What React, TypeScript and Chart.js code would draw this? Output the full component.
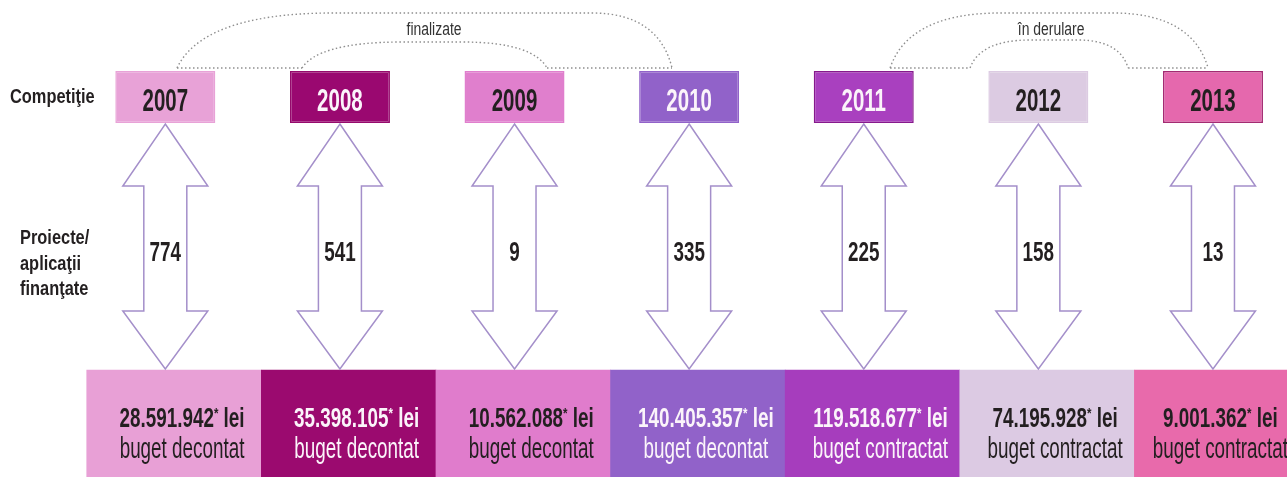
import React, { useEffect, useRef } from "react";
import { Chart, registerables } from "chart.js";

Chart.register(...registerables);

// ---------------- data ----------------
const years = ["2007", "2008", "2009", "2010", "2011", "2012", "2013"];
const projects = [774, 541, 9, 335, 225, 158, 13];
const budgets = [
  "28.591.942",
  "35.398.105",
  "10.562.088",
  "140.405.357",
  "119.518.677",
  "74.195.928",
  "9.001.362",
];
const budgetTypes = [
  "buget decontat",
  "buget decontat",
  "buget decontat",
  "buget decontat",
  "buget contractat",
  "buget contractat",
  "buget contractat",
];
const rowLabelCompetition = ["Competiţie"];
const rowLabelProjects = ["Proiecte/", "aplicaţii", "finanţate"];
const groupLabels = ["finalizate", "în derulare"];

// ---------------- styles ----------------
const yearFill = ["#e8a2d7", "#9a0870", "#e07fcd", "#9162c9", "#a940bf", "#dccbe2", "#e568ad"];
const yearBorder = ["#e8a2d7", "#950a6c", "#e07fcd", "#9162c9", "#86198c", "#dccbe2", "#a32b72"];
const bottomFill = ["#e8a0d6", "#9b0a6f", "#e07ccc", "#9162c9", "#a63dbd", "#dccae3", "#e86aab"];
const textColor = ["#231f20", "#fbf4fa", "#231f20", "#fbf4fa", "#fbf4fa", "#231f20", "#231f20"];
const DARK = "#231f20";
const ARROW_STROKE = "#a48fca";
const DOT_COLOR = "#8f8f8f";
const FONT = '"Liberation Sans", Arial, Helvetica, sans-serif';
const HS = 0.82; // condensed look

// ---------------- layout ----------------
const W = 1287;
const H = 477;
const LEFT_PAD = 78;
const X_MIN = -0.5;
const X_MAX = 6.424;
const XB_SHIFT = 0.05;
const YEAR_BOX: [number, number] = [71, 123];
const BOTTOM_BOX: [number, number] = [370, 477];
const ARROW_Y: [number, number] = [124, 369];
const ARROW_HEAD_HALF = 42.5;
const ARROW_SHAFT_HALF = 21.5;
const ARROW_HEAD_TOP = 62;
const ARROW_HEAD_BOTTOM = 58;
const BOTTOM_TEXT_SHIFT = 8;
const ARC_BASE = 68;
const ARCS = [
  { outer: [0.067, 2.902, 13, 156, 80], inner: [0.783, 2.186, 42, 100, 85], labelX: 1.539 },
  { outer: [4.151, 5.972, 13, 110, 95], inner: [4.609, 5.514, 40, 60, 50], labelX: 5.073 },
];

function drawText(
  ctx: CanvasRenderingContext2D,
  s: string,
  x: number,
  y: number,
  size: number,
  weight: string,
  color: string,
  align: CanvasTextAlign,
  vs: number
) {
  ctx.save();
  ctx.translate(x, y);
  ctx.scale(HS, vs);
  ctx.font = `${weight} ${size}px ${FONT}`;
  ctx.fillStyle = color;
  ctx.textAlign = align;
  ctx.textBaseline = "alphabetic";
  ctx.fillText(s, 0, 0);
  ctx.restore();
}

function textWidth(ctx: CanvasRenderingContext2D, s: string, size: number, weight: string) {
  ctx.save();
  ctx.font = `${weight} ${size}px ${FONT}`;
  const m = ctx.measureText(s).width * HS;
  ctx.restore();
  return m;
}

function arcPath(
  ctx: CanvasRenderingContext2D,
  x0: number,
  x1: number,
  yTop: number,
  yBase: number,
  rL: number,
  rR: number
) {
  const h = yBase - yTop;
  ctx.beginPath();
  ctx.moveTo(x0, yBase);
  ctx.bezierCurveTo(x0 + rL * 0.1, yTop + h * 0.4, x0 + rL * 0.4, yTop, x0 + rL, yTop);
  ctx.lineTo(x1 - rR, yTop);
  ctx.bezierCurveTo(x1 - rR * 0.4, yTop, x1 - rR * 0.1, yTop + h * 0.4, x1, yBase);
  ctx.stroke();
}

const infoPlugin = {
  id: "infoPlugin",
  afterDatasetsDraw(chart: any) {
    const ctx: CanvasRenderingContext2D = chart.ctx;
    const xs = chart.scales.x;
    const ys = chart.scales.y;
    const yearMeta = chart.getDatasetMeta(1);
    const bottomMeta = chart.getDatasetMeta(0);

    // dotted arcs
    ctx.save();
    ctx.strokeStyle = DOT_COLOR;
    ctx.lineWidth = 1.4;
    ctx.setLineDash([1.5, 2.5]);
    const yb = ys.getPixelForValue(ARC_BASE);
    ARCS.forEach((a, gi) => {
      const [ox0, ox1, oTop, orL, orR] = a.outer;
      const [ix0, ix1, iTop, irL, irR] = a.inner;
      const px0 = xs.getPixelForValue(ox0);
      const px1 = xs.getPixelForValue(ox1);
      const pi0 = xs.getPixelForValue(ix0);
      const pi1 = xs.getPixelForValue(ix1);
      arcPath(ctx, px0, px1, ys.getPixelForValue(oTop), yb, orL, orR);
      arcPath(ctx, pi0, pi1, ys.getPixelForValue(iTop), yb, irL, irR);
      ctx.beginPath();
      ctx.moveTo(px0, yb);
      ctx.lineTo(pi0, yb);
      ctx.moveTo(pi1, yb);
      ctx.lineTo(px1, yb);
      ctx.stroke();
      drawText(ctx, groupLabels[gi], xs.getPixelForValue(a.labelX), 35, 17, "normal", "#333333", "center", 1.1);
    });
    ctx.restore();

    // arrows + project counts
    const top = ys.getPixelForValue(ARROW_Y[0]);
    const bot = ys.getPixelForValue(ARROW_Y[1]);
    yearMeta.data.forEach((el: any, i: number) => {
      const cx = el.x;
      ctx.save();
      ctx.beginPath();
      ctx.moveTo(cx, top);
      ctx.lineTo(cx + ARROW_HEAD_HALF, top + ARROW_HEAD_TOP);
      ctx.lineTo(cx + ARROW_SHAFT_HALF, top + ARROW_HEAD_TOP);
      ctx.lineTo(cx + ARROW_SHAFT_HALF, bot - ARROW_HEAD_BOTTOM);
      ctx.lineTo(cx + ARROW_HEAD_HALF, bot - ARROW_HEAD_BOTTOM);
      ctx.lineTo(cx, bot);
      ctx.lineTo(cx - ARROW_HEAD_HALF, bot - ARROW_HEAD_BOTTOM);
      ctx.lineTo(cx - ARROW_SHAFT_HALF, bot - ARROW_HEAD_BOTTOM);
      ctx.lineTo(cx - ARROW_SHAFT_HALF, top + ARROW_HEAD_TOP);
      ctx.lineTo(cx - ARROW_HEAD_HALF, top + ARROW_HEAD_TOP);
      ctx.closePath();
      ctx.fillStyle = "#ffffff";
      ctx.fill();
      ctx.strokeStyle = ARROW_STROKE;
      ctx.lineWidth = 1.5;
      ctx.lineJoin = "miter";
      ctx.stroke();
      ctx.restore();
      drawText(ctx, String(projects[i]), cx, 261, 23, "bold", DARK, "center", 1.2);
      // year label
      drawText(ctx, years[i], cx, 111, 25, "bold", textColor[i], "center", 1.27);
    });

    // bottom texts
    const rightEdge = chart.width;
    bottomMeta.data.forEach((el: any, i: number) => {
      const num = budgets[i];
      const w1 = textWidth(ctx, num, 23, "bold");
      const w2 = textWidth(ctx, "*", 14, "bold");
      const w3 = textWidth(ctx, " lei", 23, "bold");
      const wType = textWidth(ctx, budgetTypes[i], 23, "normal");
      const maxW = Math.max(w1 + w2 + w3, wType);
      const cx = Math.min(el.x + BOTTOM_TEXT_SHIFT, rightEdge - maxW / 2 + 1);
      let x = cx - (w1 + w2 + w3) / 2;
      drawText(ctx, num, x, 427, 23, "bold", textColor[i], "left", 1.22);
      x += w1;
      drawText(ctx, "*", x, 418, 14, "bold", textColor[i], "left", 1.0);
      x += w2;
      drawText(ctx, " lei", x, 427, 23, "bold", textColor[i], "left", 1.22);
      drawText(ctx, budgetTypes[i], cx, 458, 23, "normal", textColor[i], "center", 1.25);
    });

    // left row labels
    rowLabelCompetition.forEach((s) => drawText(ctx, s, 10, 103, 20, "bold", DARK, "left", 1.05));
    rowLabelProjects.forEach((s, k) => drawText(ctx, s, 20, 244 + k * 25.5, 20, "bold", DARK, "left", 1.05));
  },
};

const indexTicks = (s: any) => {
  s.ticks = years.map((_, i) => ({ value: i }));
};

export default function App() {
  const ref = useRef<HTMLCanvasElement | null>(null);

  useEffect(() => {
    document.body.style.margin = "0";
    document.body.style.overflow = "hidden";
    const canvas = ref.current;
    if (!canvas) return;
    const chart = new Chart(canvas, {
      type: "bar",
      data: {
        datasets: [
          {
            label: "buget",
            xAxisID: "xb",
            data: years.map((_, i) => ({ x: i, y: [BOTTOM_BOX[0], BOTTOM_BOX[1]] })) as any,
            backgroundColor: bottomFill,
            borderWidth: 0,
            barPercentage: 1,
            categoryPercentage: 1,
            grouped: false,
          },
          {
            label: "competiţie",
            xAxisID: "x",
            data: years.map((_, i) => ({ x: i, y: [YEAR_BOX[0], YEAR_BOX[1]] })) as any,
            backgroundColor: yearFill,
            borderColor: yearBorder,
            borderWidth: 1.5,
            borderSkipped: false,
            barPercentage: 100 / 174.6,
            categoryPercentage: 1,
            grouped: false,
          },
        ],
      },
      options: {
        animation: false,
        responsive: true,
        maintainAspectRatio: false,
        events: [],
        layout: { padding: { left: LEFT_PAD, right: 0, top: 0, bottom: 0 } },
        plugins: { legend: { display: false }, tooltip: { enabled: false }, title: { display: false } },
        scales: {
          x: {
            type: "linear",
            display: false,
            offset: false,
            min: X_MIN,
            max: X_MAX,
            ticks: { stepSize: 1, includeBounds: false },
            afterBuildTicks: indexTicks,
            grid: { display: false, offset: false },
          },
          xb: {
            type: "linear",
            axis: "x",
            display: false,
            offset: false,
            min: X_MIN - XB_SHIFT,
            max: X_MAX - XB_SHIFT,
            ticks: { stepSize: 1, includeBounds: false },
            afterBuildTicks: indexTicks,
            grid: { display: false, offset: false },
          },
          y: {
            type: "linear",
            display: false,
            reverse: true,
            min: 0,
            max: H,
            grid: { display: false },
          },
        },
      } as any,
      plugins: [infoPlugin],
    });
    return () => chart.destroy();
  }, []);

  return (
    <div style={{ position: "relative", width: W, height: H, background: "#ffffff" }}>
      <canvas ref={ref} />
    </div>
  );
}
